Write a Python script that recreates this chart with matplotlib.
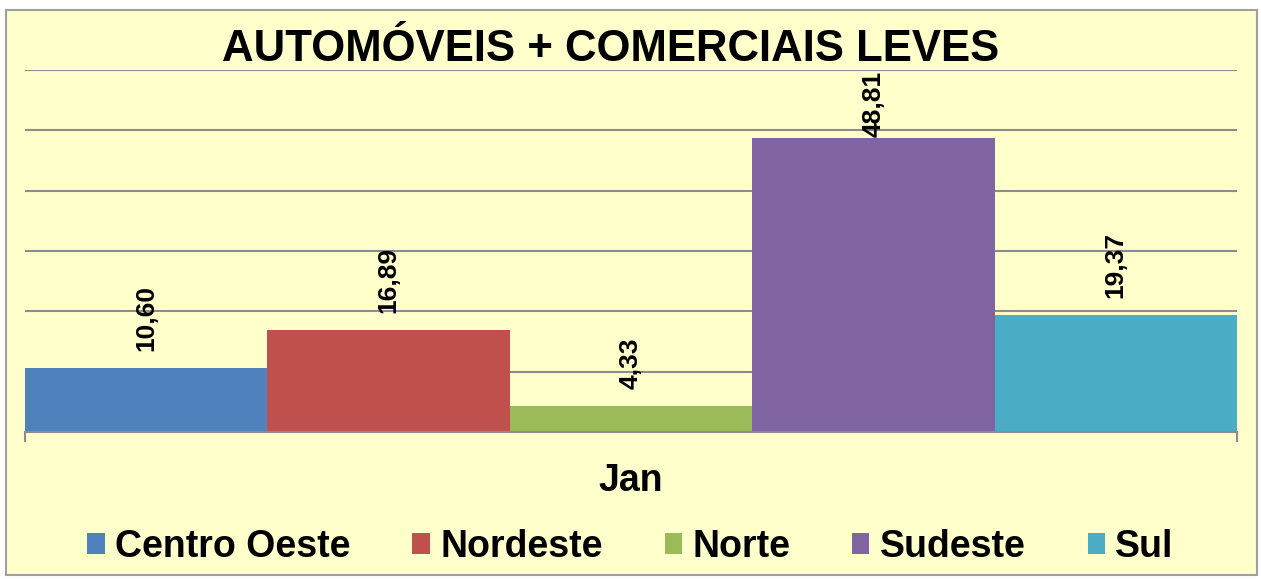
import matplotlib
matplotlib.use("Agg")
import matplotlib.pyplot as plt
from matplotlib.patches import Rectangle

plt.rcParams['font.family'] = ['Liberation Sans', 'DejaVu Sans']

regioes = ["Centro Oeste", "Nordeste", "Norte", "Sudeste", "Sul"]
valores = [10.60, 16.89, 4.33, 48.81, 19.37]
rotulos = ["10,60", "16,89", "4,33", "48,81", "19,37"]
cores = ["#4F81BD", "#C0504D", "#9BBB59", "#8064A2", "#4BACC6"]
titulo = "AUTOMÓVEIS + COMERCIAIS LEVES"
categoria = "Jan"

BG = "#FFFFCC"
GRID = "#8C8C8C"

fig = plt.figure(figsize=(12.61, 5.79), dpi=100)
fig.patch.set_facecolor("white")
# chart area box
fig.patches.append(Rectangle((6/1261, 4/579), 1251/1261, 565/579,
                             transform=fig.transFigure, facecolor=BG,
                             edgecolor="#A0A0A0", linewidth=1.5, zorder=0))

ax = fig.add_axes([25/1261, (579-432)/579, 1212/1261, 362/579])
ax.set_facecolor("none")
ax.set_zorder(2)

for i, (v, c, nome) in enumerate(zip(valores, cores, regioes)):
    ax.bar(i, v, width=1.0, color=c, label=nome, zorder=2)

ymax = 60
ax.set_ylim(0, ymax)
ax.set_xlim(-0.5, len(valores) - 0.5)
ax.set_yticks(range(10, 61, 10))
ax.yaxis.grid(True, color=GRID, linewidth=1.5, zorder=0)
ax.set_axisbelow(True)
ax.tick_params(axis="y", length=0, labelleft=False)

for s in ["left", "right", "top"]:
    ax.spines[s].set_visible(False)
ax.spines["bottom"].set_color(GRID)
ax.spines["bottom"].set_linewidth(1.5)
ax.spines["bottom"].set_zorder(3)

ax.set_xticks([2], labels=[categoria], fontsize=27, fontweight="bold")
ax.tick_params(axis="x", length=0, pad=22)
ax.set_xticks([-0.5, len(valores) - 0.5], minor=True)
ax.tick_params(axis="x", which="minor", length=7, width=1.5, color=GRID)

# data labels (rotated), kept inside the plot area
unit_px = 362 / ymax
off = 17 / unit_px
txt_len = 64 / unit_px
for i, (v, lab) in enumerate(zip(valores, rotulos)):
    y = min(v + off, ymax - 0.5 - txt_len)
    ax.text(i, y, lab, rotation=90, ha="center", va="bottom",
            fontsize=19, fontweight="bold", zorder=4)

fig.text(0.4845, 0.915, titulo, ha="center", va="center",
         fontsize=31.5, fontweight="bold")

fig.legend(loc="center", bbox_to_anchor=(0.5, (579-547)/579),
           ncol=5, frameon=False, prop={"size": 27, "weight": "bold"},
           handlelength=0.46, handleheight=0.46, handletextpad=0.28,
           columnspacing=1.65)

fig.savefig("out.png", dpi=100)
